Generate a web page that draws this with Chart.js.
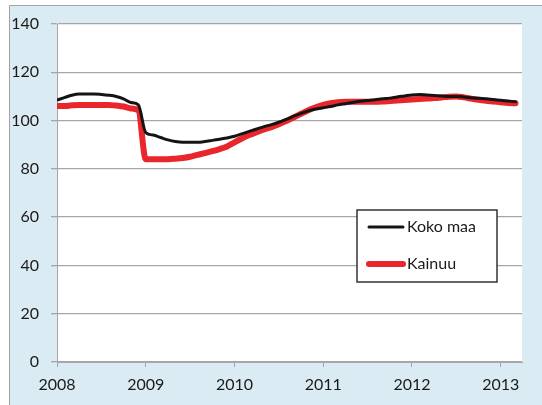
<!DOCTYPE html>
<html>
<head>
<meta charset="utf-8">
<script src="https://cdn.jsdelivr.net/npm/chart.js@4/dist/chart.umd.min.js"></script>
<style>
  html, body { margin: 0; padding: 0; background: #fff; }
  canvas { display: block; }
</style>
</head>
<body>
<canvas id="chart" width="542" height="405"></canvas>
<script>
// Monthly index, Jan 2008 – Mar 2013
const startYear = 2008;
const seriesNames = ["Koko maa", "Kainuu"];

const kokoMaa = [
  108.5, 109.5, 110.5, 111, 111, 111, 110.8, 110.5, 110, 109, 107.5, 106.5,
  95, 94, 93, 92, 91.3, 91, 91, 91, 91.3, 91.8, 92.3, 92.8,
  93.5, 94.5, 95.5, 96.5, 97.5, 98.3, 99.3, 100.5, 101.8, 103, 104, 104.8,
  105.3, 105.8, 106.5, 107, 107.5, 108, 108.3, 108.6, 109, 109.3, 109.8, 110.2,
  110.6, 110.8, 110.6, 110.4, 110.2, 110, 110, 109.8, 109.5, 109.2, 109, 108.7,
  108.4, 108.1, 107.8
];

const kainuu = [
  106, 106, 106.3, 106.5, 106.5, 106.5, 106.5, 106.5, 106.2, 105.8, 105, 104.2,
  84, 84, 84, 84, 84.2, 84.5, 85, 85.8, 86.5, 87.3, 88.2, 89.3,
  91, 92.6, 94, 95.2, 96.3, 97.3, 98.5, 99.8, 101.3, 102.8, 104.3, 105.5,
  106.5, 107.2, 107.6, 107.8, 107.8, 107.8, 107.8, 107.8, 107.9, 108.1, 108.3, 108.5,
  108.7, 108.9, 109.1, 109.3, 109.6, 109.9, 110, 109.6, 109.1, 108.6, 108.2, 107.9,
  107.6, 107.3, 107.2
];

const yTicks = [0, 20, 40, 60, 80, 100, 120, 140];
const xTicks = [2008, 2009, 2010, 2011, 2012, 2013];

const toPoints = (arr) => arr.map((v, i) => ({ x: startYear + i / 12, y: v }));

Chart.defaults.font.family = "Lato, 'Liberation Sans', sans-serif";
Chart.defaults.font.size = 16;
Chart.defaults.color = "#1a1a1a";

// pale frame behind the chart and white plot area
const frame = {
  id: "frame",
  beforeDraw(chart) {
    const { ctx, chartArea: a } = chart;
    ctx.save();
    ctx.fillStyle = "#fff";
    ctx.fillRect(0, 0, chart.width, chart.height);
    ctx.fillStyle = "#dbebf3";
    ctx.fillRect(9, 5, chart.width - 9, chart.height - 5);
    ctx.strokeStyle = "#a3a3a3";
    ctx.lineWidth = 1;
    ctx.beginPath();
    ctx.moveTo(9.5, chart.height);
    ctx.lineTo(9.5, 5.5);
    ctx.lineTo(chart.width, 5.5);
    ctx.stroke();
    ctx.fillStyle = "#fff";
    ctx.fillRect(a.left, a.top, a.right - a.left, a.bottom - a.top);
    ctx.restore();
  },
};

// boxed legend inside the plot
const boxLegend = {
  id: "boxLegend",
  afterDraw(chart) {
    const { ctx } = chart;
    const x = 357, y = 210, w = 140, h = 72;
    ctx.save();
    ctx.fillStyle = "#fff";
    ctx.fillRect(x, y, w, h);
    ctx.strokeStyle = "#333";
    ctx.lineWidth = 1.5;
    ctx.strokeRect(x, y, w, h);
    chart.data.datasets.forEach((ds, i) => {
      const ly = y + 17 + i * 37;
      ctx.strokeStyle = ds.borderColor;
      ctx.lineWidth = ds.borderWidth;
      ctx.lineCap = "round";
      ctx.beginPath();
      ctx.moveTo(369, ly);
      ctx.lineTo(403, ly);
      ctx.stroke();
      ctx.fillStyle = "#1a1a1a";
      ctx.font = "16px Lato, 'Liberation Sans', sans-serif";
      ctx.textBaseline = "middle";
      ctx.textAlign = "left";
      ctx.fillText(ds.label, 407, ly);
    });
    ctx.restore();
  },
};

new Chart(document.getElementById("chart"), {
  type: "line",
  data: {
    datasets: [
      {
        label: seriesNames[0],
        data: toPoints(kokoMaa),
        borderColor: "#141414",
        borderWidth: 3,
      },
      {
        label: seriesNames[1],
        data: toPoints(kainuu),
        borderColor: "#e8262b",
        borderWidth: 6,
      },
    ],
  },
  options: {
    responsive: false,
    animation: false,
    layout: { padding: { top: 24, right: 20, left: 0, bottom: 0 } },
    elements: {
      point: { radius: 0 },
      line: { cubicInterpolationMode: "monotone", borderCapStyle: "round", borderJoinStyle: "round" },
    },
    plugins: { legend: { display: false }, tooltip: { enabled: false } },
    scales: {
      x: {
        type: "linear",
        min: xTicks[0],
        max: 2013.24,
        afterFit: (s) => { s.height = 43; },
        afterBuildTicks: (s) => { s.ticks = xTicks.map((v) => ({ value: v })); },
        ticks: { padding: 8, maxRotation: 0, callback: (v) => String(v) },
        grid: { drawOnChartArea: false, drawTicks: true, tickLength: 5, color: "#a6a6a6" },
        border: { display: true, color: "#a6a6a6" },
      },
      y: {
        min: yTicks[0],
        max: yTicks[yTicks.length - 1],
        afterFit: (s) => { s.width = 57; },
        afterBuildTicks: (s) => { s.ticks = yTicks.map((v) => ({ value: v })); },
        ticks: { padding: 12 },
        grid: { color: "#a6a6a6", lineWidth: 1.3, tickLength: 6 },
        border: { display: true, color: "#a6a6a6" },
      },
    },
  },
  plugins: [frame, boxLegend],
});
</script>
</body>
</html>
